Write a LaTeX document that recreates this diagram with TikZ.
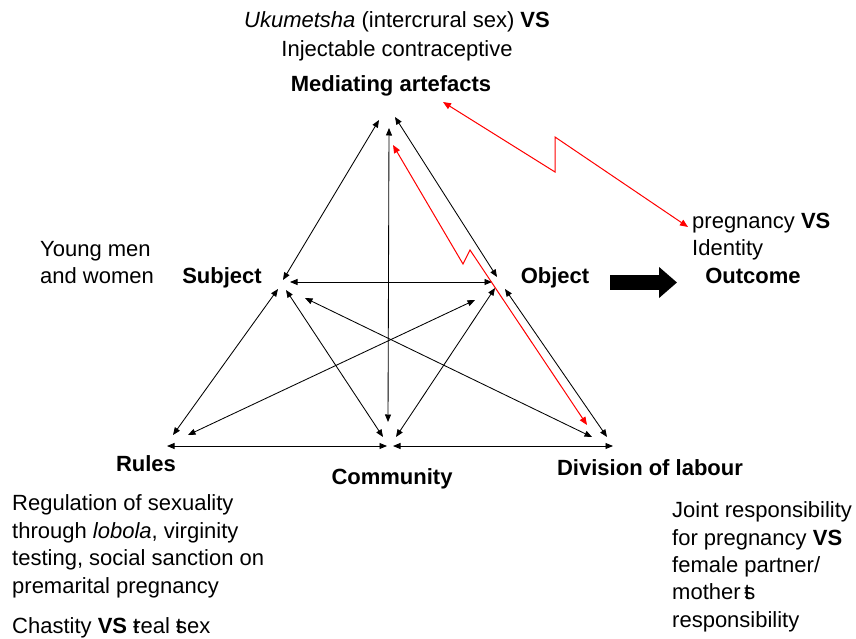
\documentclass[tikz,border=0pt]{standalone}
\usepackage{fontspec}
\setmainfont{Liberation Sans}
\usetikzlibrary{arrows.meta}
% a glyph struck over another letter
\newcommand\overstruck[1]{\rlap{ŧ}#1}
\begin{document}
\begin{tikzpicture}[x=1pt,y=-1pt,
  every node/.style={inner sep=0pt, font=\fontsize{22}{27.5}\selectfont},
  vertexname/.style={font=\fontsize{22}{27.5}\selectfont\bfseries, anchor=base},
  textnote/.style={anchor=base west, align=left},
  relation/.style={{Triangle[length=7.5pt,width=6pt]}-{Triangle[length=7.5pt,width=6pt]}, line width=0.85pt},
  contradiction/.style={{Triangle[length=8pt,width=6.5pt]}-{Triangle[length=8pt,width=6.5pt]}, draw=red, line width=1pt, line join=miter},
  flow/.style={line width=15pt, -{Triangle[length=18pt,width=30pt]}}]
\useasboundingbox (0,0) rectangle (856,639);

% ---- texts (a multi-line node sits on the baseline of its last line) ----
\node[anchor=base, align=center] (topnote) at (397,57)
  {\textit{Ukumetsha} (intercrural sex) \textbf{VS}\\[1.5pt]Injectable contraceptive};
\node[vertexname] (mediating) at (391,92) {Mediating artefacts};
\node[textnote] (agents) at (40,283) {Young men\\[-0.5pt]and women};
\node[vertexname] (subject) at (222,283) {Subject};
\node[vertexname] (object) at (555,283) {Object};
\node[vertexname] (outcome) at (753,283) {Outcome};
\node[textnote] (outcomenote) at (692,255) {pregnancy \textbf{VS}\\[-0.5pt]Identity};
\node[vertexname] (rules) at (146,471) {Rules};
\node[vertexname] (community) at (392,484) {Community};
\node[vertexname] (division) at (650,475) {Division of labour};
\node[textnote] (rulesnote) at (12,633)
  {Regulation of sexuality\\through \textit{lobola}, virginity\\testing, social sanction on\\premarital pregnancy\\[12.5pt]Chastity \textbf{VS} \overstruck{r}eal \overstruck{s}ex};
\node[textnote] (divisionnote) at (672,627)
  {Joint responsibility\\[1pt]for pregnancy \textbf{VS}\\[-1pt]female partner/\\mother\,\overstruck{s}\\responsibility};

% ---- arrow end points around the six corners ----
\coordinate (MS) at (379,120); \coordinate (SM) at (283,280);
\coordinate (MC) at (389,128); \coordinate (CM) at (388,422);
\coordinate (MO) at (395,117); \coordinate (OM) at (497,277);
\coordinate (SO) at (290,282); \coordinate (OS) at (492,282);
\coordinate (SR) at (278,289); \coordinate (RS) at (173,435);
\coordinate (SC) at (286,290); \coordinate (CS) at (383,437);
\coordinate (SD) at (305,298); \coordinate (DS) at (592,437);
\coordinate (OR) at (475,300); \coordinate (RO) at (188,435);
\coordinate (OC) at (495,288); \coordinate (CO) at (396,437);
\coordinate (OD) at (505,289); \coordinate (DO) at (607,437);
\coordinate (RC) at (167,446); \coordinate (CR) at (387,446);
\coordinate (CD) at (393,446); \coordinate (DC) at (613,446);

% ---- relations of the activity system ----
\draw[relation] (MS) -- (SM);
\draw[relation] (MC) -- (CM);
\draw[relation] (MO) -- (OM);
\draw[relation] (SO) -- (OS);
\draw[relation] (SR) -- (RS);
\draw[relation] (SC) -- (CS);
\draw[relation] (SD) -- (DS);
\draw[relation] (OR) -- (RO);
\draw[relation] (OC) -- (CO);
\draw[relation] (OD) -- (DO);
\draw[relation] (RC) -- (CR);
\draw[relation] (CD) -- (DC);

% ---- contradictions (lightning arrows) ----
\coordinate (tensionA1) at (393,145);
\coordinate (tensionA2) at (587,425);
\draw[contradiction] (tensionA1) -- (463,264) -- (470,250) -- (tensionA2);
\coordinate (tensionB1) at (443,102);
\coordinate (tensionB2) at (688,227);
\draw[contradiction] (tensionB1) -- (555,172) -- (555,137) -- (tensionB2);

% ---- object to outcome ----
\coordinate (flowA) at (610,282.5);
\coordinate (flowB) at (677,282.5);
\draw[flow] (flowA) -- (flowB);
\end{tikzpicture}
\end{document}
